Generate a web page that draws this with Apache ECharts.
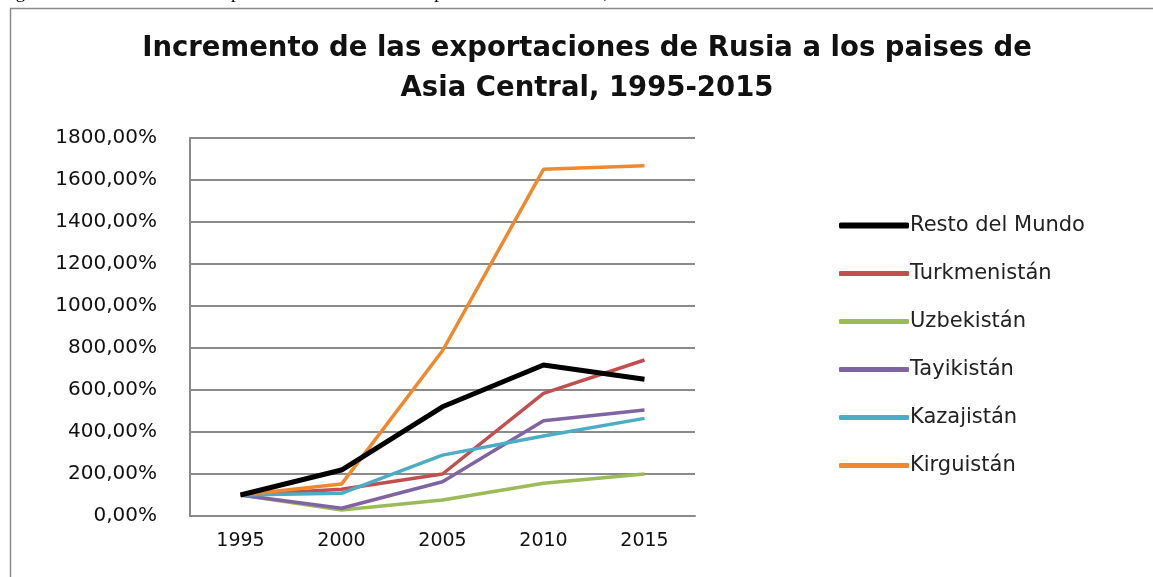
<!DOCTYPE html>
<html><head><meta charset="utf-8">
<script src="https://cdn.jsdelivr.net/npm/echarts@6/dist/echarts.min.js"></script>
<style>html,body{margin:0;padding:0;background:#fff}#c{width:1153px;height:577px}</style>
</head><body><div id="c"></div>
<script>
const years = ['1995','2000','2005','2010','2015'];
const restoDelMundo = [100, 219, 520, 719, 651];
const turkmenistan = [100, 127, 200, 584, 743];
const uzbekistan = [100, 29, 76, 156, 200];
const tayikistan = [100, 37, 163, 454, 505];
const kazajistan = [100, 108, 290, 381, 465];
const kirguistan = [100, 152, 787, 1651, 1668];
const seriesNames = ['Resto del Mundo','Turkmenistán','Uzbekistán','Tayikistán','Kazajistán','Kirguistán'];
const seriesData = [restoDelMundo, turkmenistan, uzbekistan, tayikistan, kazajistan, kirguistan];
const colors = ['#000000','#C0504D','#9BBB59','#8064A2','#4BACC6','#F0892E'];
const widths = [5,3.5,3.5,3.5,3.5,3.5];

const legendText = {fontFamily:'DejaVu Sans', fontSize:21, color:'#222', padding:[0,0,0,-4]};
const chart = echarts.init(document.getElementById('c'));
chart.setOption({
  animation:false,
  backgroundColor:'#fff',
  title:{
    text:'Incremento de las exportaciones de Rusia a los paises de\nAsia Central, 1995-2015',
    left:582, top:24, textAlign:'center',
    textStyle:{fontFamily:'DejaVu Sans', fontWeight:'bold', fontSize:27.5, lineHeight:40, color:'#111'}
  },
  graphic:[
    {type:'rect', shape:{x:10.5,y:8.5,width:1200,height:700}, style:{fill:null, stroke:'#8a8a8a', lineWidth:1.5}},
    {type:'text', left:0, top:-16, style:{text:'Figura 3. Incremento de las exportaciones de Rusia a los paises de Asia Central, 1995-2015', font:'19px "Liberation Serif"', fill:'#000'}}
  ],
  legend:[
    {orient:'vertical', left:834, top:210, itemWidth:70, itemHeight:6, icon:'roundRect',
     textStyle:legendText, data:[seriesNames[0]]},
    {orient:'vertical', left:834, top:258, itemGap:27, itemWidth:70, itemHeight:5, icon:'roundRect',
     textStyle:legendText, data:seriesNames.slice(1)}
  ],
  grid:{left:190, top:138, width:505, height:378, containLabel:false},
  xAxis:{
    type:'category', data:years, boundaryGap:true,
    axisLine:{lineStyle:{color:'#8a8a8a', width:2}},
    axisTick:{show:false},
    axisLabel:{fontFamily:'DejaVu Sans', fontSize:19, color:'#111', margin:16}
  },
  yAxis:{
    type:'value', min:0, max:1800, interval:200,
    axisLine:{show:true, lineStyle:{color:'#8a8a8a', width:2}},
    axisTick:{show:false},
    splitLine:{lineStyle:{color:'#8a8a8a', width:2}},
    axisLabel:{fontFamily:'DejaVu Sans', fontSize:20, color:'#111', margin:33,
      formatter:v=>v.toFixed(2).replace('.',',')+'%'}
  },
  series: seriesNames.map((n,i)=>({
    name:n, type:'line', data:seriesData[i], symbol:'none', showSymbol:false,
    color:colors[i], lineStyle:{color:colors[i], width:widths[i]}, z: i===0?3:2
  }))
});
</script></body></html>
